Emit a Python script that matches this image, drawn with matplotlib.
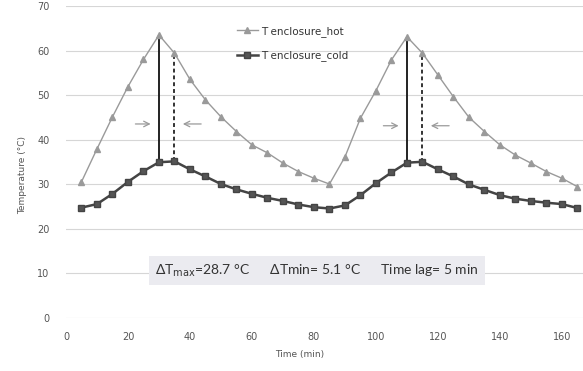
import matplotlib
matplotlib.use('Agg')
import matplotlib.pyplot as plt

# time in minutes, temperatures in degC
time_min = [5, 10, 15, 20, 25, 30, 35, 40, 45, 50, 55, 60, 65, 70, 75, 80, 85,
            90, 95, 100, 105, 110, 115, 120, 125, 130, 135, 140, 145, 150, 155, 160, 165]
t_hot = [30.6, 38.0, 45.2, 52.0, 58.1, 63.6, 59.5, 53.6, 49.0, 45.2, 41.9, 38.9, 37.1, 34.8, 32.9, 31.4, 30.1,
         36.2, 44.9, 51.1, 58.0, 63.2, 59.5, 54.6, 49.7, 45.1, 41.9, 38.9, 36.6, 34.8, 32.9, 31.4, 29.5]
t_cold = [24.8, 25.6, 27.9, 30.6, 33.0, 35.0, 35.2, 33.4, 31.8, 30.1, 28.9, 27.9, 27.0, 26.3, 25.5, 24.9, 24.6,
          25.3, 27.6, 30.3, 32.7, 34.9, 35.1, 33.4, 31.8, 30.0, 28.8, 27.6, 26.8, 26.3, 25.9, 25.6, 24.7]
peak_hot_times = [30, 110]
peak_cold_times = [35, 115]
x_ticks = [0, 20, 40, 60, 80, 100, 120, 140, 160]
y_ticks = [0, 10, 20, 30, 40, 50, 60, 70]
note = r'ΔT$_{\mathrm{max}}$=28.7 °C      ΔTmin= 5.1 °C      Time lag= 5 min'

fig = plt.figure(figsize=(5.83, 3.71), dpi=100)
ax = fig.add_axes([0.1132, 0.1429, 0.957, 0.8396])

for s in ax.spines.values():
    s.set_visible(False)
ax.set_xlim(0, 180)
ax.set_ylim(0, 70)
ax.set_xticks(x_ticks)
ax.set_yticks(y_ticks)
ax.tick_params(length=0, labelsize=7, colors='#555555')
ax.tick_params(axis='x', pad=10)
ax.tick_params(axis='y', pad=12)
ax.grid(axis='y', color='#d6d6d6', lw=0.8)
ax.set_axisbelow(True)

ax.plot(time_min, t_hot, color='#9a9a9a', lw=1.0, marker='^', ms=4,
        mfc='#9a9a9a', mec='#9a9a9a', label='T enclosure_hot')
ax.plot(time_min, t_cold, color='#444444', lw=1.8, marker='s', ms=4.5,
        mfc='#555555', mec='#444444', label='T enclosure_cold')

# vertical markers for the peaks and the time lag
for th, tc in zip(peak_hot_times, peak_cold_times):
    ih = time_min.index(th)
    ic = time_min.index(tc)
    ax.plot([th, th], [t_cold[ih], t_hot[ih]], color='#222222', lw=1.4, zorder=1)
    ax.plot([tc, tc], [t_cold[ic], t_hot[ic]], color='#333333', lw=1.4, ls=(0, (2, 1.5)), zorder=1)
    ya = t_hot[ih] - 20
    ax.annotate('', xy=(th - 1.8, ya), xytext=(th - 8.5, ya),
                arrowprops=dict(arrowstyle='->', color='#9a9a9a', lw=0.9))
    ax.annotate('', xy=(tc + 1.8, ya), xytext=(tc + 9.5, ya),
                arrowprops=dict(arrowstyle='->', color='#9a9a9a', lw=0.9))

ax.text(81, 10.6, note, ha='center', va='center', fontsize=10, color='#333333',
        family='Lato',
        bbox=dict(boxstyle='square,pad=0.45', fc='#ebebf0', ec='none'))

ax.legend(loc='upper left', bbox_to_anchor=(0.39, 0.955), bbox_transform=fig.transFigure,
          frameon=False, fontsize=7.5, handlelength=2.0, handletextpad=0.3,
          labelspacing=1.3, labelcolor='#333333')

ax.set_xlabel('Time (min)', fontsize=6.5, color='#555555')
ax.set_ylabel('Temperature (°C)', fontsize=6.5, color='#555555')
ax.xaxis.set_label_coords(0.419, -0.103)
ax.yaxis.set_label_coords(-0.07, 0.46)

fig.savefig('out.png', dpi=100)
